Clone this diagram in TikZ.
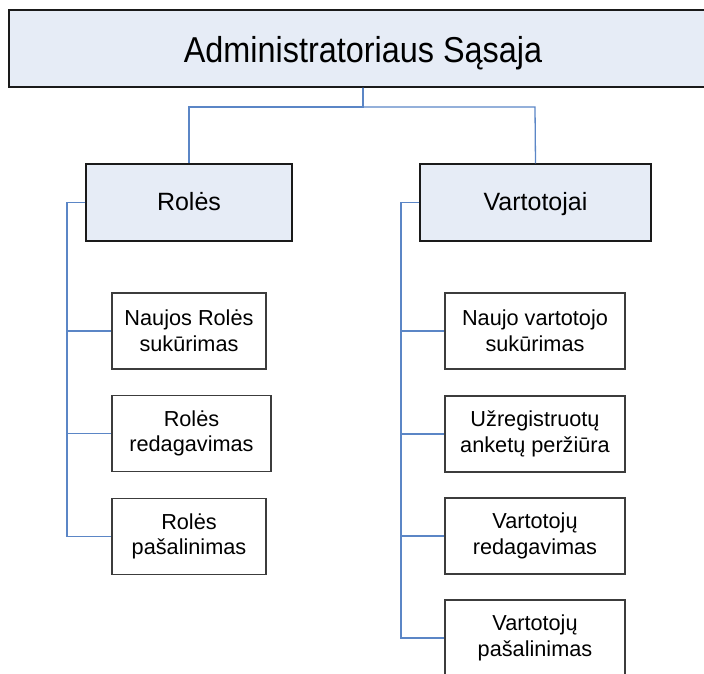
\documentclass[tikz,border=0pt]{standalone}
\usepackage{fontspec}
\setmainfont{Liberation Sans}
\newfontfamily\titlefont[FakeStretch=0.9]{Liberation Sans}
\definecolor{linkblue}{HTML}{5B86C6}
\definecolor{headfill}{HTML}{E6ECF6}
\definecolor{boxedge}{HTML}{1A1A1A}
\begin{document}
\begin{tikzpicture}[x=1pt,y=-1pt,
  headbox/.style={draw=boxedge,line width=1.2pt,fill=headfill,inner sep=0pt,
    minimum height=77pt,text height=20pt,text depth=4pt,
    font=\fontsize{25}{30}\selectfont},
  itembox/.style={draw=boxedge!85!white,line width=1.2pt,fill=white,inner sep=0pt,
    minimum height=76pt,align=center,font=\fontsize{21.7}{25.7}\selectfont},
  link/.style={draw=linkblue,line width=1.3pt}]
\useasboundingbox (0,0) rectangle (704,673);
\clip (0,0) rectangle (704,673);

% top-level box
\node[headbox,minimum width=708pt,text height=30pt,text depth=3pt,
  font=\titlefont\fontsize{36}{40}\selectfont]
  (top) at (363,48.5) {Administratoriaus Sąsaja};

% second level
\node[headbox,minimum width=206pt] (roles) at (189,202.5) {Rolės};
\node[headbox,minimum width=231pt] (users) at (535.5,202.5) {Vartotojai};

% role actions
\node[itembox,minimum width=154pt] (r1) at (189,331) {Naujos Rolės\\sukūrimas};
\node[itembox,minimum width=159pt] (r2) at (191.5,433.5) {Rolės\\redagavimas};
\node[itembox,minimum width=154pt] (r3) at (189,536.5) {Rolės\\pašalinimas};

% user actions
\node[itembox,minimum width=180pt] (u1) at (535,331) {Naujo vartotojo\\sukūrimas};
\node[itembox,minimum width=180pt] (u2) at (535,434) {Užregistruotų\\anketų peržiūra};
\node[itembox,minimum width=180pt] (u3) at (535,536) {Vartotojų\\redagavimas};
\node[itembox,minimum width=180pt] (u4) at (535,638) {Vartotojų\\pašalinimas};

% bus under the top box
\coordinate (busL) at (189,107);
\coordinate (busR) at (535,107);
\draw[link] (top.south) |- (busL) -- (roles.north);
\draw[link] (top.south) |- (busR) -- (users.north);

% spines on the left of each column
\coordinate (rsp) at (67,202.5);
\coordinate (usp) at (401,202.5);
\draw[link] (roles.west) -- (rsp) |- (r3.west);
\draw[link] (rsp) |- (r1.west);
\draw[link] (rsp) |- (r2.west);
\draw[link] (users.west) -- (usp) |- (u4.west);
\draw[link] (usp) |- (u1.west);
\draw[link] (usp) |- (u2.west);
\draw[link] (usp) |- (u3.west);
\end{tikzpicture}
\end{document}
